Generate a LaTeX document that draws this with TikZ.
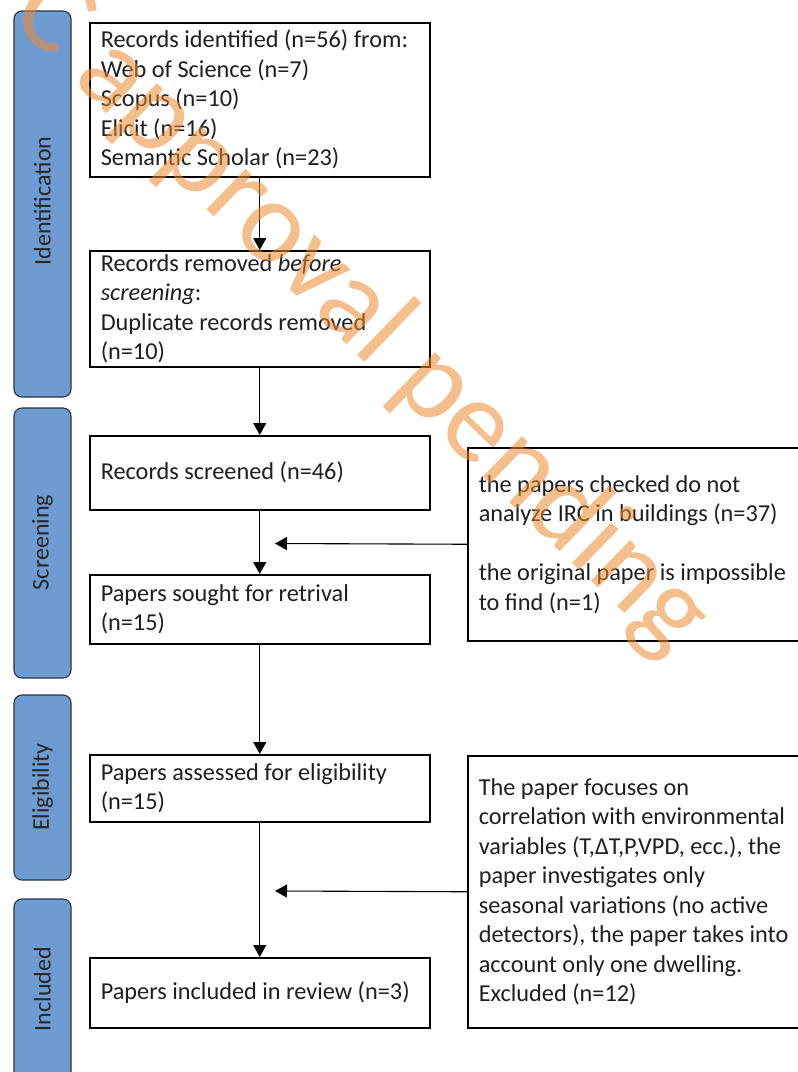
\documentclass[tikz,border=0pt]{standalone}
\usepackage{fontspec}
\setmainfont{Carlito}
\usetikzlibrary{arrows.meta}
\definecolor{bandblue}{RGB}{110,155,210}
\definecolor{bandedge}{RGB}{40,50,65}
\definecolor{wmorange}{RGB}{238,138,48}
\tikzset{
  band/.style={draw=bandedge, line width=1.1pt, fill=bandblue, rounded corners=8pt},
  bandlabel/.style={rotate=90, font=\fontsize{24}{28}\selectfont, text=black!85},
  box/.style={draw=black, line width=1.5pt, fill=white, anchor=north west, inner xsep=11pt, inner ysep=0pt,
    align=flush left, font=\fontsize{24.3}{29.5}\selectfont, text=black!88},
  conn/.style={line width=1.1pt, -{Triangle[width=13pt,length=12pt]}},
  wm/.style={text=wmorange, opacity=0.55, font=\fontsize{118}{118}\selectfont, anchor=base west, rotate=-44, inner sep=0pt}
}
\begin{document}
\begin{tikzpicture}[x=1pt,y=-1pt]
\useasboundingbox (0,0) rectangle (798,1072);
\clip (0,0) rectangle (798,1072);
\fill[white] (0,0) rectangle (798,1072);
% phase bands
\draw[band] (14,11) rectangle (71,397);
\draw[band] (14,408) rectangle (71,678);
\draw[band] (14,695) rectangle (71,880);
\draw[band] (14,899) rectangle (71,1100);
\node[bandlabel] (lid) at (42.5,201) {Identification};
\node[bandlabel] (lsc) at (42.5,542.5) {Screening};
\node[bandlabel] (lel) at (42.5,787) {Eligibility};
\node[bandlabel] (lin) at (42.5,989) {Included};
% boxes
\node[box, minimum width=340pt, minimum height=154pt, text width=318pt] (b1) at (89,22)
  {Records identified (n=56) from:\\Web of Science (n=7)\\Scopus (n=10)\\Elicit (n=16)\\Semantic Scholar (n=23)};
\node[box, minimum width=340pt, minimum height=116pt, text width=318pt] (b2) at (89,250)
  {Records removed \textit{before}\\\textit{screening}:\\Duplicate records removed\\(n=10)};
\node[box, minimum width=340pt, minimum height=74pt, text width=318pt] (b3) at (89,435)
  {Records screened (n=46)};
\node[box, minimum width=340pt, minimum height=69pt, text width=318pt] (b4) at (89,574)
  {Papers sought for retrival\\(n=15)};
\node[box, minimum width=340pt, minimum height=67pt, text width=318pt] (b5) at (89,754)
  {Papers assessed for eligibility\\(n=15)};
\node[box, minimum width=340pt, minimum height=70pt, text width=318pt] (b6) at (89,957)
  {Papers included in review (n=3)};
\node[box, minimum width=345pt, minimum height=193pt, text width=323pt] (e1) at (467,447)
  {the papers checked do not\\analyze IRC in buildings (n=37)\\[29.5pt]the original paper is impossible\\to find (n=1)};
\node[box, minimum width=345pt, minimum height=272pt, text width=323pt] (e2) at (467,755)
  {The paper focuses on\\correlation with environmental\\variables (T,ΔT,P,VPD, ecc.), the\\paper investigates only\\seasonal variations (no active\\detectors), the paper takes into\\account only one dwelling.\\Excluded (n=12)};
% connectors
\coordinate (t1) at (275,543.5);
\coordinate (t2) at (275,891);
\draw[conn] (b1.south) -- (b2.north);
\draw[conn] (b2.south) -- (b3.north);
\draw[conn] (b3.south) -- (b4.north);
\draw[conn] (b4.south) -- (b5.north);
\draw[conn] (b5.south) -- (b6.north);
\draw[conn] (e1.west) -- (t1);
\draw[conn] (e2.west) -- (t2);
% watermark
\node[wm] (wmk) at (7,17) {C approval pending};
\end{tikzpicture}
\end{document}
